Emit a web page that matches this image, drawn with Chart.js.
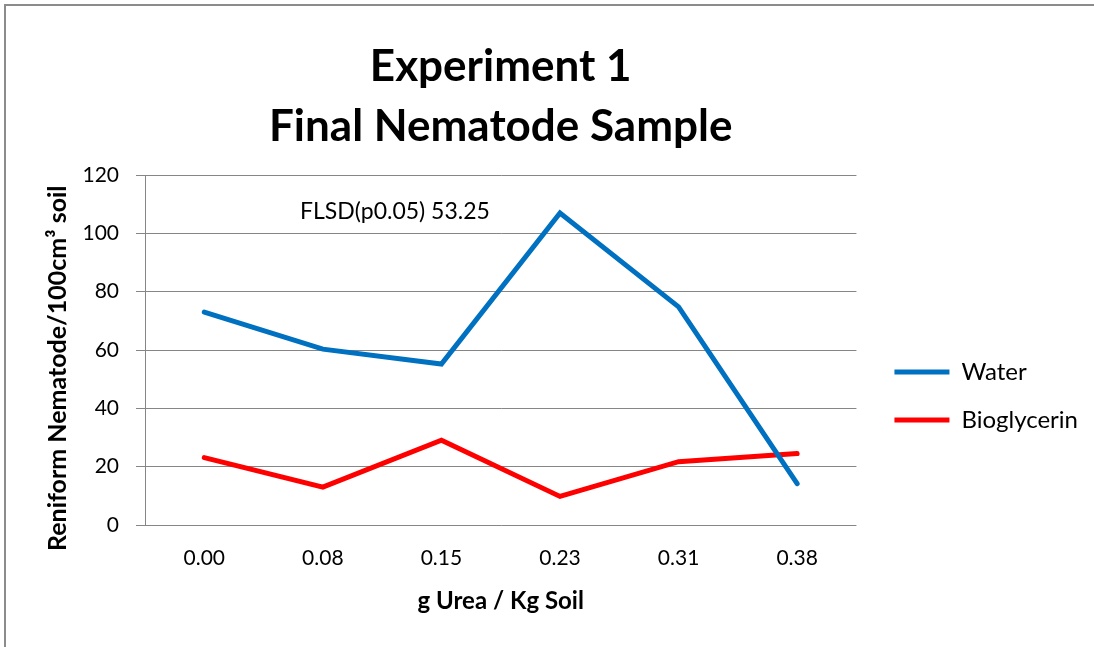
<!DOCTYPE html>
<html>
<head>
<meta charset="utf-8">
<script src="https://cdn.jsdelivr.net/npm/chart.js@4"></script>
<style>
  html, body { margin: 0; padding: 0; background: #fff; overflow: hidden; }
  #wrap { width: 1094px; height: 647px; position: relative; }
</style>
</head>
<body>
<div id="wrap"><canvas id="myChart"></canvas></div>
<script>
var dosis = ['0.00', '0.08', '0.15', '0.23', '0.31', '0.38'];
var water = [73, 60.3, 55.2, 107, 74.8, 14.2];
var bioglycerin = [23.1, 13.0, 29.1, 9.8, 21.7, 24.5];
var yTicks = [0, 20, 40, 60, 80, 100, 120];
var nota = 'FLSD(p0.05) 53.25';

var fuente = 'Lato, "Open Sans", sans-serif';
var gris = '#868686';

// marco gris (solo arriba e izquierda se ven en la imagen)
var marco = {
  id: 'marco',
  afterDraw: function(chart) {
    var ctx = chart.ctx;
    ctx.save();
    ctx.strokeStyle = '#8c8c8c';
    ctx.lineWidth = 2;
    ctx.beginPath();
    ctx.moveTo(5, chart.height + 5);
    ctx.lineTo(5, 5);
    ctx.lineTo(chart.width + 5, 5);
    ctx.stroke();
    ctx.restore();
  }
};

// texto FLSD dentro del area
var textoNota = {
  id: 'textoNota',
  afterDatasetsDraw: function(chart) {
    var ctx = chart.ctx;
    var y = chart.scales.y.getPixelForValue(107.5);
    ctx.save();
    ctx.font = '23px ' + fuente;
    ctx.fillStyle = '#000';
    ctx.textBaseline = 'middle';
    ctx.fillText(nota, chart.chartArea.left + 155, y);
    ctx.restore();
  }
};

// mover la leyenda un poco a la derecha y abajo
var moverLeyenda = {
  id: 'moverLeyenda',
  afterLayout: function(chart) {
    var l = chart.legend;
    l.left += 14; l.right += 14;
    l.top += 46; l.bottom += 46;
  }
};

var ctx = document.getElementById('myChart').getContext('2d');
var chart = new Chart(ctx, {
  type: 'line',
  data: {
    labels: dosis,
    datasets: [{
      label: 'Water',
      data: water,
      borderColor: '#0070C0',
      backgroundColor: '#0070C0',
      borderWidth: 5,
      pointRadius: 0,
      tension: 0,
      borderCapStyle: 'round'
    }, {
      label: 'Bioglycerin',
      data: bioglycerin,
      borderColor: '#FF0000',
      backgroundColor: '#FF0000',
      borderWidth: 5,
      pointRadius: 0,
      tension: 0,
      borderCapStyle: 'round'
    }]
  },
  options: {
    responsive: true,
    maintainAspectRatio: false,
    animation: false,
    layout: { padding: { left: 0, right: 20, top: 0, bottom: 0 } },
    plugins: {
      title: {
        display: true,
        fullSize: false,
        text: ['Experiment 1', 'Final Nematode Sample'],
        color: '#000',
        font: { family: fuente, size: 44, weight: 'bold', lineHeight: 1.364 },
        padding: { top: 37, bottom: 18 }
      },
      legend: {
        position: 'right',
        fullSize: false,
        labels: {
          usePointStyle: true,
          pointStyle: 'line',
          pointStyleWidth: 55,
          boxHeight: 24,
          padding: 24,
          color: '#000',
          font: { family: fuente, size: 24 }
        }
      },
      tooltip: { enabled: false }
    },
    scales: {
      x: {
        offset: true,
        afterFit: function(s) { s.height = 122; },
        grid: { display: false, drawTicks: false },
        border: { display: false },
        ticks: { color: '#000', padding: 21, font: { family: fuente, size: 21 } },
        title: {
          display: true,
          text: 'g Urea / Kg Soil',
          color: '#000',
          font: { family: fuente, size: 24, weight: 'bold' },
          padding: { top: 18, bottom: 31 }
        }
      },
      y: {
        min: 0,
        max: 120,
        afterFit: function(s) { s.width = 145; },
        afterBuildTicks: function(s) { s.ticks = yTicks.map(function(v) { return { value: v }; }); },
        grid: { color: gris, lineWidth: 1, tickLength: 9 },
        border: { display: true, color: gris, width: 1 },
        ticks: { color: '#000', padding: 17, font: { family: fuente, size: 21 } },
        title: {
          display: true,
          text: 'Reniform Nematode/100cm³ soil      ',
          color: '#000',
          font: { family: fuente, size: 25, weight: 'bold' },
          padding: { top: 43, bottom: 0 }
        }
      }
    }
  },
  plugins: [marco, textoNota, moverLeyenda]
});
</script>
</body>
</html>
